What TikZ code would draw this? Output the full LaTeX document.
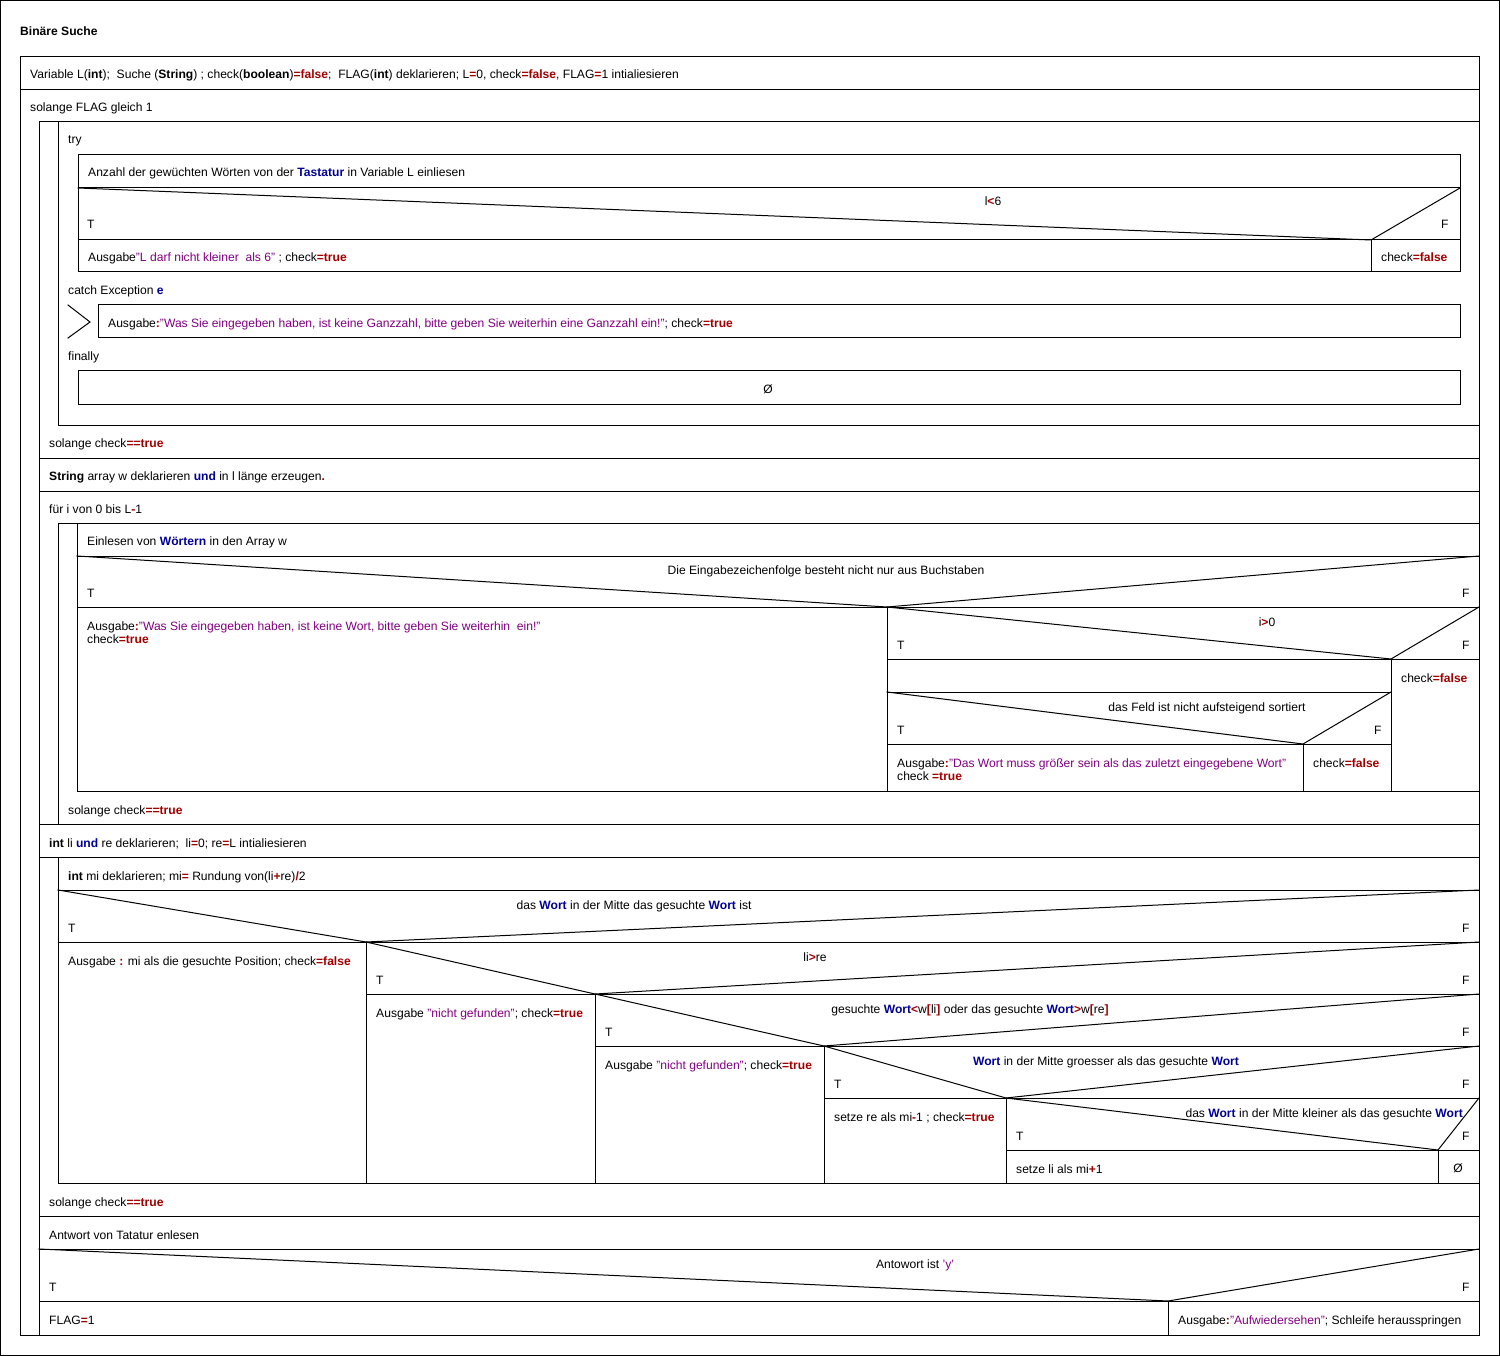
\documentclass[tikz,border=0pt]{standalone}
\usepackage{fontspec}
\setmainfont{Liberation Sans}
\definecolor{nsred}{RGB}{160,0,0}
\definecolor{nsblue}{RGB}{0,0,150}
\definecolor{nsstr}{RGB}{128,0,128}
\newcommand{\nsop}[1]{\textcolor{nsred}{\textbf{#1}}}
\newcommand{\nskw}[1]{\textcolor{nsred}{\textbf{#1}}}
\newcommand{\nsbl}[1]{\textcolor{nsblue}{\textbf{#1}}}
\newcommand{\nsstr}[1]{\textcolor{nsstr}{#1}}
\newcommand{\nsfont}{\fontsize{12.1}{14}\selectfont}
\tikzset{
  lbl/.style={anchor=west, inner sep=0pt, text height=10pt, text depth=0pt, font=\nsfont},
  cond/.style={anchor=center, inner sep=0pt, text height=10pt, text depth=0pt, font=\nsfont},
  condr/.style={anchor=east, inner sep=0pt, text height=10pt, text depth=0pt, font=\nsfont},
  ln/.style={line width=1pt, line cap=rect},
}
\begin{document}
\begin{tikzpicture}[x=1pt, y=-1pt]
\useasboundingbox (0,0) rectangle (1500,1356);
% outer frame and title
\draw[ln] (0.5,0.5) rectangle (1499,1355);
\node[lbl, font=\nsfont\bfseries] (title) at (20,31) {Binäre Suche};
% main structogram
\draw[ln] (20,57) rectangle (1479,1335);
\draw[ln] (20,90) -- (1479,90);
% while FLAG loop
\draw[ln] (39,122) -- (1479,122);
\draw[ln] (39,122) -- (39,1335);
% first do-while with try/catch/finally
\draw[ln] (58,122) -- (58,425);
\draw[ln] (58,425) -- (1479,425);
\draw[ln] (39,458) -- (1479,458);
\draw[ln] (78,155) rectangle (1460,272);
\draw[ln] (78,188) -- (1460,188);
\draw[ln] (78,240) -- (1460,240);
\draw[ln] (1371,240) -- (1371,272);
\draw[ln] (78,188) -- (1371,240) -- (1460,188);
\draw[ln] (68,305) -- (90,322) -- (68,338);
\draw[ln] (98,305) rectangle (1460,338);
\draw[ln] (78,371) rectangle (1460,404);
% array row and for loop
\draw[ln] (39,491) -- (1479,491);
\draw[ln] (58,523) -- (1479,523);
\draw[ln] (58,523) -- (58,824);
\draw[ln] (77,523) -- (77,791);
\draw[ln] (77,791) -- (1479,791);
\draw[ln] (39,824) -- (1479,824);
\draw[ln] (77,556) -- (1479,556);
\draw[ln] (77,556) -- (887,607) -- (1479,556);
\draw[ln] (77,607) -- (1479,607);
\draw[ln] (887,607) -- (887,791);
\draw[ln] (887,607) -- (1391,659) -- (1479,607);
\draw[ln] (887,659) -- (1479,659);
\draw[ln] (1391,659) -- (1391,791);
\draw[ln] (887,692) -- (1391,692);
\draw[ln] (887,692) -- (1303,744) -- (1391,692);
\draw[ln] (887,744) -- (1391,744);
\draw[ln] (1303,744) -- (1303,791);
% binary search loop
\draw[ln] (39,857) -- (1479,857);
\draw[ln] (58,857) -- (58,1183);
\draw[ln] (58,890) -- (1479,890);
\draw[ln] (58,890) -- (366,942) -- (1479,890);
\draw[ln] (58,942) -- (1479,942);
\draw[ln] (366,942) -- (366,1183);
\draw[ln] (366,942) -- (595,994) -- (1479,942);
\draw[ln] (366,994) -- (1479,994);
\draw[ln] (595,994) -- (595,1183);
\draw[ln] (595,994) -- (824,1046) -- (1479,994);
\draw[ln] (595,1046) -- (1479,1046);
\draw[ln] (824,1046) -- (824,1183);
\draw[ln] (824,1046) -- (1006,1098) -- (1479,1046);
\draw[ln] (824,1098) -- (1479,1098);
\draw[ln] (1006,1098) -- (1006,1183);
\draw[ln] (1006,1098) -- (1438,1150) -- (1479,1098);
\draw[ln] (1006,1150) -- (1479,1150);
\draw[ln] (1438,1150) -- (1438,1183);
\draw[ln] (58,1183) -- (1479,1183);
\draw[ln] (39,1216) -- (1479,1216);
% answer question
\draw[ln] (39,1249) -- (1479,1249);
\draw[ln] (39,1249) -- (1168,1301) -- (1479,1249);
\draw[ln] (39,1301) -- (1479,1301);
\draw[ln] (1168,1301) -- (1168,1335);

% texts
\node[lbl] (decl) at (30,74) {Variable L(\textbf{int});\ \ Suche (\textbf{String}) ; check(\textbf{boolean})\nsop{=}\nskw{false};\ \ FLAG(\textbf{int}) deklarieren; L\nsop{=}0, check\nsop{=}\nskw{false}, FLAG\nsop{=}1 intialiesieren};
\node[lbl] (wflag) at (30,107) {solange FLAG gleich 1};
\node[lbl] (try) at (68,139) {try};
\node[lbl] (readl) at (88,172) {Anzahl der gewüchten Wörten von der \nsbl{Tastatur} in Variable L einliesen};
\node[cond] (c1) at (993,201) {l\nsop{<}6};
\node[lbl] (c1t) at (87,224) {T};
\node[lbl] (c1f) at (1441,224) {F};
\node[lbl] (c1a) at (88,257) {Ausgabe\nsstr{"L darf nicht kleiner\ \ als 6"} ; check\nsop{=}\nskw{true}};
\node[lbl] (c1b) at (1381,257) {check\nsop{=}\nskw{false}};
\node[lbl] (catch) at (68,290) {catch Exception \nsbl{e}};
\node[lbl] (catchtxt) at (108,323) {Ausgabe\nsop{:}\nsstr{"Was Sie eingegeben haben, ist keine Ganzzahl, bitte geben Sie weiterhin eine Ganzzahl ein!"}; check\nsop{=}\nskw{true}};
\node[lbl] (fin) at (68,356) {finally};
\node[cond] (finempty) at (768,388) {Ø};
\node[lbl] (until1) at (49,442) {solange check\nsop{==}\nskw{true}};
\node[lbl] (arr) at (49,475) {\textbf{String} array w deklarieren \nsbl{und} in l länge erzeugen\nsop{.}};
\node[lbl] (for) at (49,508) {für i von 0 bis L\nsop{-}1};
\node[lbl] (readw) at (87,540) {Einlesen von \nsbl{Wörtern} in den Array w};
\node[cond] (c2) at (826,569) {Die Eingabezeichenfolge besteht nicht nur aus Buchstaben};
\node[lbl] (c2t) at (87,592) {T};
\node[lbl] (c2f) at (1462,592) {F};
\node[lbl] (c2a) at (87,625) {Ausgabe\nsop{:}\nsstr{"Was Sie eingegeben haben, ist keine Wort, bitte geben Sie weiterhin\ \ ein!"}};
\node[lbl] (c2b) at (87,638) {check\nsop{=}\nskw{true}};
\node[cond] (c3) at (1267,621) {i\nsop{>}0};
\node[lbl] (c3t) at (897,644) {T};
\node[lbl] (c3f) at (1462,644) {F};
\node[lbl] (c3b) at (1401,677) {check\nsop{=}\nskw{false}};
\node[cond] (c4) at (1207,706) {das Feld ist nicht aufsteigend sortiert};
\node[lbl] (c4t) at (897,729) {T};
\node[lbl] (c4f) at (1374,729) {F};
\node[lbl] (c4a) at (897,762) {Ausgabe\nsop{:}\nsstr{"Das Wort muss größer sein als das zuletzt eingegebene Wort"}};
\node[lbl] (c4a2) at (897,775) {check \nsop{=}\nskw{true}};
\node[lbl] (c4b) at (1313,762) {check\nsop{=}\nskw{false}};
\node[lbl] (until2) at (68,809) {solange check\nsop{==}\nskw{true}};
\node[lbl] (lire) at (49,842) {\textbf{int} li \nsbl{und} re deklarieren;\ \ li\nsop{=}0; re\nsop{=}L intialiesieren};
\node[lbl] (mi) at (68,875) {\textbf{int} mi deklarieren; mi\nsop{=} Rundung von(li\nsop{+}re)\nsop{/}2};
\node[cond] (c5) at (634,904) {das \nsbl{Wort} in der Mitte das gesuchte \nsbl{Wort} ist};
\node[lbl] (c5t) at (68,927) {T};
\node[lbl] (c5f) at (1462,927) {F};
\node[lbl] (c5a) at (68,960) {Ausgabe \nsop{:} mi als die gesuchte Position; check\nsop{=}\nskw{false}};
\node[cond] (c6) at (815,956) {li\nsop{>}re};
\node[lbl] (c6t) at (376,979) {T};
\node[lbl] (c6f) at (1462,979) {F};
\node[lbl] (c6a) at (376,1012) {Ausgabe \nsstr{"nicht gefunden"}; check\nsop{=}\nskw{true}};
\node[cond] (c7) at (970,1008) {gesuchte \nsbl{Wort}\nsop{<}w\nsop{[}li\nsop{]} oder das gesuchte \nsbl{Wort}\nsop{>}w\nsop{[}re\nsop{]}};
\node[lbl] (c7t) at (605,1031) {T};
\node[lbl] (c7f) at (1462,1031) {F};
\node[lbl] (c7a) at (605,1064) {Ausgabe \nsstr{"nicht gefunden"}; check\nsop{=}\nskw{true}};
\node[cond] (c8) at (1106,1060) {\nsbl{Wort} in der Mitte groesser als das gesuchte \nsbl{Wort}};
\node[lbl] (c8t) at (834,1083) {T};
\node[lbl] (c8f) at (1462,1083) {F};
\node[lbl] (c8a) at (834,1116) {setze re als mi\nsop{-}1 ; check\nsop{=}\nskw{true}};
\node[condr] (c9) at (1463,1112) {das \nsbl{Wort} in der Mitte kleiner als das gesuchte \nsbl{Wort}};
\node[lbl] (c9t) at (1016,1135) {T};
\node[lbl] (c9f) at (1462,1135) {F};
\node[lbl] (c9a) at (1016,1168) {setze li als mi\nsop{+}1};
\node[cond] (c9b) at (1458,1167) {Ø};
\node[lbl] (until3) at (49,1201) {solange check\nsop{==}\nskw{true}};
\node[lbl] (ans) at (49,1234) {Antwort von Tatatur enlesen};
\node[cond] (c10) at (915,1263) {Antowort ist \nsstr{'y'}};
\node[lbl] (c10t) at (49,1286) {T};
\node[lbl] (c10f) at (1462,1286) {F};
\node[lbl] (c10a) at (49,1319) {FLAG\nsop{=}1};
\node[lbl] (c10b) at (1178,1319) {Ausgabe\nsop{:}\nsstr{"Aufwiedersehen"}; Schleife heraus\-springen};
\end{tikzpicture}
\end{document}
